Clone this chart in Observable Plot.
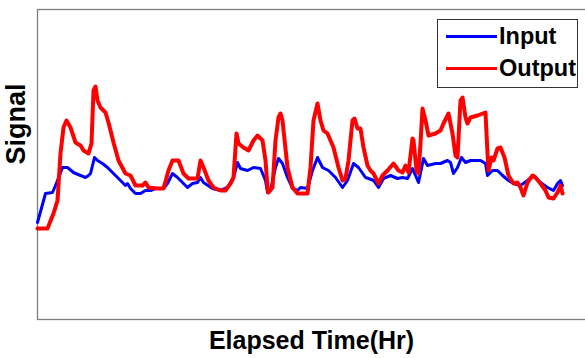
<!DOCTYPE html>
<html>
<head>
<meta charset="utf-8">
<script src="https://cdn.jsdelivr.net/npm/d3@7"></script>
<script src="https://cdn.jsdelivr.net/npm/@observablehq/plot@0.6"></script>
<style>
  html, body { margin: 0; padding: 0; background: #fff; overflow: hidden; }
  #chart { position: relative; width: 585px; height: 358px; overflow: hidden; }
  #chart svg { display: block; max-width: none !important; }
  .legend {
    position: absolute; left: 437px; top: 19px; width: 141px; height: 69px;
    border: 1px solid #333; background: #fff; box-sizing: border-box;
    font-family: "Liberation Sans", Arial, sans-serif; font-weight: bold; font-size: 23.5px;
  }
  .legend .row { position: absolute; left: 8px; display: flex; align-items: center; }
  .legend .swatch { width: 51px; height: 3px; margin-right: 2px; }
</style>
</head>
<body>
<div id="chart"></div>
<script>
// Input signal samples: elapsed time (hr) and level
const inputHours = [0.0, 0.8, 1.5, 1.8, 2.5, 3.0, 3.6, 4.3, 4.8, 5.1, 5.3, 5.7, 6.0, 6.5, 7.0, 7.6, 8.3, 8.8, 9.0, 9.3,
  9.8, 10.3, 10.8, 11.3, 11.8, 12.6, 13.0, 13.5, 14.0, 15.0, 15.5, 16.0, 16.3, 16.6, 17.5, 18.3, 19.0, 19.6, 20.0, 20.3,
  21.0, 21.6, 22.3, 22.8, 23.0, 23.3, 23.8, 24.1, 24.5, 25.0, 25.5, 26.0, 26.3, 27.0, 27.5, 28.0, 28.5, 29.1, 29.8, 30.5,
  31.0, 31.6, 32.1, 32.8, 33.1, 33.6, 34.1, 34.6, 35.3, 36.0, 36.5, 37.0, 37.5, 37.8, 38.1, 38.5, 38.6, 39.0, 39.8, 40.3,
  41.0, 41.3, 41.6, 42.0, 42.4, 42.8, 43.3, 44.3, 44.8, 45.0, 45.5, 46.0, 46.5, 47.1, 47.6, 48.3, 49.0, 49.6, 50.3, 51.0,
  51.6, 52.0, 52.3, 52.5];
const inputSignal = [9.7, 12.6, 12.7, 13.4, 15.2, 15.2, 14.7, 14.4, 14.2, 14.4, 14.6, 16.2, 15.9, 15.6, 15.2, 14.6, 13.9, 13.4, 13.6, 13.1,
  12.6, 12.6, 12.9, 12.9, 13.1, 13.1, 13.6, 14.6, 14.2, 13.2, 13.6, 13.7, 14.2, 13.7, 13.1, 12.9, 13.2, 14.2, 15.7, 15.1,
  14.9, 15.2, 15.1, 13.9, 12.7, 12.9, 15.2, 16.1, 15.6, 14.2, 13.1, 12.9, 13.2, 13.1, 14.9, 16.2, 15.2, 14.9, 14.2, 13.2,
  13.9, 15.6, 15.2, 14.2, 14.1, 13.9, 13.2, 14.1, 14.4, 14.1, 14.2, 14.1, 15.1, 14.4, 13.7, 15.6, 16.1, 15.4, 15.6, 15.6,
  15.9, 15.7, 14.6, 15.2, 16.2, 15.7, 15.9, 15.9, 15.6, 14.4, 14.9, 14.9, 14.4, 13.9, 13.6, 13.4, 13.9, 14.4, 13.7, 13.2,
  12.9, 13.6, 13.9, 13.4];

// Output signal samples: elapsed time (hr) and level
const outputHours = [0.0, 1.0, 1.6, 2.0, 2.3, 2.6, 2.9, 3.3, 3.8, 4.3, 4.6, 5.1, 5.4, 5.6, 5.8, 6.0, 6.3, 6.8, 7.1, 7.6,
  8.1, 8.8, 9.3, 9.8, 10.5, 10.8, 11.1, 12.0, 12.6, 13.1, 13.5, 14.1, 14.6, 15.1, 16.0, 16.3, 16.6, 17.1, 17.6, 18.3,
  18.8, 19.3, 19.6, 19.9, 20.1, 20.6, 21.1, 21.6, 22.0, 22.5, 22.8, 23.0, 23.1, 23.5, 23.8, 24.1, 24.3, 24.5, 25.0, 25.5,
  26.0, 27.0, 27.3, 27.6, 28.0, 28.3, 28.6, 29.0, 29.6, 30.1, 30.5, 30.8, 31.1, 31.5, 31.7, 32.0, 32.3, 32.6, 33.0, 33.3,
  33.6, 34.1, 34.5, 35.0, 35.6, 36.1, 36.5, 36.8, 37.1, 37.5, 37.6, 37.9, 38.1, 38.3, 38.5, 38.8, 39.1, 39.8, 40.3, 40.6,
  41.1, 41.5, 41.8, 42.0, 42.3, 42.5, 42.8, 43.0, 43.3, 44.0, 44.8, 45.0, 45.1, 45.4, 45.6, 46.0, 46.3, 46.7, 47.1, 47.6,
  48.0, 48.3, 48.6, 49.0, 49.5, 49.8, 50.3, 50.8, 51.1, 51.6, 52.0, 52.3, 52.5];
const outputSignal = [9.1, 9.1, 10.6, 11.9, 16.6, 19.2, 19.9, 19.2, 17.7, 17.4, 16.9, 16.6, 17.6, 22.9, 23.3, 21.9, 21.2, 20.7, 19.7, 17.7,
  15.9, 14.6, 14.4, 13.4, 13.4, 13.7, 13.2, 13.1, 13.1, 14.9, 15.9, 15.9, 14.6, 14.1, 14.1, 15.9, 15.2, 13.9, 13.2, 12.9,
  12.9, 13.6, 14.2, 18.6, 17.6, 17.2, 16.9, 17.9, 18.4, 17.9, 15.9, 13.2, 12.7, 13.2, 17.9, 20.2, 20.6, 19.9, 15.2, 13.2,
  12.6, 12.6, 15.2, 19.9, 21.6, 19.9, 18.9, 18.6, 17.2, 15.2, 13.9, 14.1, 15.9, 19.9, 20.1, 19.1, 19.1, 17.2, 15.4, 14.9,
  14.6, 13.6, 14.4, 14.9, 15.6, 14.9, 14.7, 15.4, 14.7, 18.1, 17.9, 14.9, 14.6, 17.6, 21.1, 19.9, 18.4, 18.6, 18.9, 19.6,
  20.6, 18.6, 16.4, 16.2, 21.9, 22.2, 20.2, 19.6, 20.2, 20.4, 20.7, 16.6, 14.9, 16.2, 15.9, 17.1, 17.2, 16.2, 14.4, 13.6,
  13.7, 13.2, 12.4, 13.7, 14.4, 14.2, 13.6, 12.9, 12.2, 12.1, 12.7, 13.4, 12.6];

const seriesNames = ["Input", "Output"];
const seriesColors = ["#0000ff", "#ff0000"];
const axisLabels = {x: "Elapsed Time(Hr)", y: "Signal"};

const input = inputHours.map((t, i) => ({t, v: inputSignal[i]}));
const output = outputHours.map((t, i) => ({t, v: outputSignal[i]}));

const font = '"Liberation Sans", Arial, Helvetica, sans-serif';

const chart = Plot.plot({
  width: 600,
  height: 358,
  marginTop: 9,
  marginBottom: 39,
  marginLeft: 37,
  marginRight: 1,
  style: {background: "#fff", fontFamily: font, maxWidth: "none"},
  x: {domain: [0, 56.2], axis: null},
  y: {domain: [0, 31], axis: null},
  marks: [
    Plot.frame({stroke: "#7d7d7d", strokeWidth: 1.3}),
    Plot.line(input, {x: "t", y: "v", stroke: seriesColors[0], strokeWidth: 3, strokeLinejoin: "round"}),
    Plot.line(output, {x: "t", y: "v", stroke: seriesColors[1], strokeWidth: 4, strokeLinejoin: "round"}),
    Plot.text([axisLabels.x], {frameAnchor: "bottom", dx: -7, dy: 29, lineAnchor: "bottom",
      fontSize: 25, fontWeight: "bold", fill: "#000", fontFamily: font, letterSpacing: "-0.3px"}),
    Plot.text([axisLabels.y], {frameAnchor: "left", dx: -21, dy: 0, rotate: -90, lineAnchor: "middle",
      fontSize: 27, fontWeight: "bold", fill: "#000", fontFamily: font})
  ]
});

const host = document.getElementById("chart");
host.appendChild(chart);

// Legend box in the upper right of the axes
const legend = document.createElement("div");
legend.className = "legend";
seriesNames.forEach((name, i) => {
  const row = document.createElement("div");
  row.className = "row";
  row.style.top = (i === 0 ? 3 : 35) + "px";
  const sw = document.createElement("div");
  sw.className = "swatch";
  sw.style.background = seriesColors[i];
  const label = document.createElement("span");
  label.textContent = name;
  row.appendChild(sw);
  row.appendChild(label);
  legend.appendChild(row);
});
host.appendChild(legend);
</script>
</body>
</html>
